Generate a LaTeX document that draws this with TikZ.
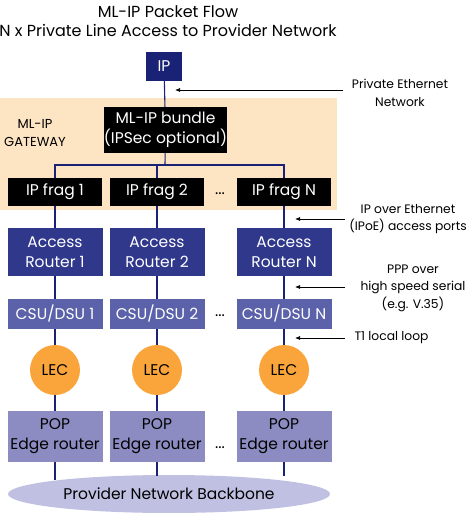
\documentclass[tikz,border=0pt]{standalone}
\usepackage{fontspec}
\setmainfont{Poppins}
\usetikzlibrary{shapes.geometric,arrows.meta}

\definecolor{ipnavy}{RGB}{26,34,118}
\definecolor{arblue}{RGB}{48,56,140}
\definecolor{csublue}{RGB}{92,98,170}
\definecolor{lecorange}{RGB}{250,165,60}
\definecolor{poppurple}{RGB}{140,140,194}
\definecolor{backlav}{RGB}{192,192,226}
\definecolor{gwpeach}{RGB}{253,229,196}

\tikzset{
  box/.style={rectangle, inner sep=0pt, align=center, font=\fontsize{15.5}{20}\selectfont},
  whitebox/.style={box, text=white},
  link/.style={draw=ipnavy, line width=1.1pt},
  pointer/.style={draw=black, line width=0.7pt, -{Latex[length=5pt,width=4pt]}},
  note/.style={align=center, font=\fontsize{12.3}{17.5}\selectfont}
}

\begin{document}
\begin{tikzpicture}[x=1pt,y=-1pt]
    \useasboundingbox (0,0) rectangle (468,513);

    % Title
    \node[font=\fontsize{16}{19}\selectfont, align=center] (title) at (168,21) {ML-IP Packet Flow\\N x Private Line Access to Provider Network};

    % Gateway background
    \fill[gwpeach] (0,98) rectangle (337,210);
    \node[note, font=\fontsize{13}{17.5}\selectfont] (gwlbl) at (35,133) {ML-IP\\GATEWAY};

    % IP and bundle
    \node[whitebox, fill=ipnavy, minimum width=36pt, minimum height=29pt] (ip) at (164,66.5) {IP};
    \node[whitebox, fill=black, minimum width=121pt, minimum height=46pt] (bundle) at (165.5,130) {ML-IP bundle\\(IPSec optional)};

    % Fragments
    \node[whitebox, fill=black, minimum width=94pt, minimum height=28pt] (frag1) at (55,192) {IP frag 1};
    \node[whitebox, fill=black, minimum width=94pt, minimum height=28pt] (frag2) at (157,192) {IP frag 2};
    \node[whitebox, fill=black, minimum width=94pt, minimum height=28pt] (fragN) at (284,192) {IP frag N};
    \node[box] (dots1) at (220,194) {...};

    % Access routers
    \node[whitebox, fill=arblue, minimum width=95pt, minimum height=48pt] (ar1) at (55,252) {Access\\Router 1};
    \node[whitebox, fill=arblue, minimum width=95pt, minimum height=48pt] (ar2) at (157,252) {Access\\Router 2};
    \node[whitebox, fill=arblue, minimum width=95pt, minimum height=48pt] (arN) at (284,252) {Access\\Router N};

    % CSU/DSU
    \node[whitebox, fill=csublue, minimum width=95pt, minimum height=30pt] (csu1) at (55,314) {CSU/DSU 1};
    \node[whitebox, fill=csublue, minimum width=95pt, minimum height=30pt] (csu2) at (157,314) {CSU/DSU 2};
    \node[whitebox, fill=csublue, minimum width=95pt, minimum height=30pt] (csuN) at (284,314) {CSU/DSU N};
    \node[box] (dots2) at (220,316) {...};

    % LEC
    \node[box, circle, fill=lecorange, minimum size=50pt] (lec1) at (55,370) {LEC};
    \node[box, circle, fill=lecorange, minimum size=50pt] (lec2) at (157,370) {LEC};
    \node[box, circle, fill=lecorange, minimum size=50pt] (lecN) at (284,370) {LEC};

    % POP edge routers
    \node[box, fill=poppurple, minimum width=95pt, minimum height=51pt] (pop1) at (55,436.5) {POP\\Edge router};
    \node[box, fill=poppurple, minimum width=95pt, minimum height=51pt] (pop2) at (157,436.5) {POP\\Edge router};
    \node[box, fill=poppurple, minimum width=95pt, minimum height=51pt] (popN) at (284,436.5) {POP\\Edge router};
    \node[box] (dots3) at (220,448) {...};

    % Backbone
    \node[box, ellipse, fill=backlav, minimum width=322pt, minimum height=38pt] (core) at (169,494) {Provider Network Backbone};

    % Links
    \coordinate (bus) at (165,165);
    \draw[link] (ip) -- (bundle);
    \draw[link] (bundle) -- (bus);
    \draw[link] (bus) -| (frag1);
    \draw[link] (bus) -| (frag2);
    \draw[link] (bus) -| (fragN);
    \draw[link] (frag1) -- (ar1);
    \draw[link] (frag2) -- (ar2);
    \draw[link] (fragN) -- (arN);
    \draw[link] (ar1) -- (csu1);
    \draw[link] (ar2) -- (csu2);
    \draw[link] (arN) -- (csuN);
    \draw[link] (csu1) -- (lec1);
    \draw[link] (csu2) -- (lec2);
    \draw[link] (csuN) -- (lecN);
    \draw[link] (lec1) -- (pop1);
    \draw[link] (lec2) -- (pop2);
    \draw[link] (lecN) -- (popN);
    \draw[link] (pop1.south) -- ++(0,18);
    \draw[link] (pop2.south) -- ++(0,14);
    \draw[link] (popN.south) -- ++(0,14);

    % Side notes
    \node[note] (ethlbl) at (400,93) {Private Ethernet\\Network};
    \node[note] (ipoelbl) at (408,219) {IP over Ethernet\\(IPoE) access ports};
    \node[note] (ppplbl) at (413,288) {PPP over\\high speed serial\\(e.g. V.35)};
    \node[note, anchor=west] (t1lbl) at (351,338) {T1 local loop};

    \coordinate (ethfrom) at (343,90);   \coordinate (ethto) at (175,90);
    \coordinate (ipoefrom) at (345,219); \coordinate (ipoeto) at (295,219);
    \coordinate (pppfrom) at (345,287);  \coordinate (pppto) at (295,287);
    \coordinate (t1from) at (345,338);   \coordinate (t1to) at (295,338);
    \draw[pointer] (ethfrom) -- (ethto);
    \draw[pointer] (ipoefrom) -- (ipoeto);
    \draw[pointer] (pppfrom) -- (pppto);
    \draw[pointer] (t1from) -- (t1to);
\end{tikzpicture}
\end{document}
